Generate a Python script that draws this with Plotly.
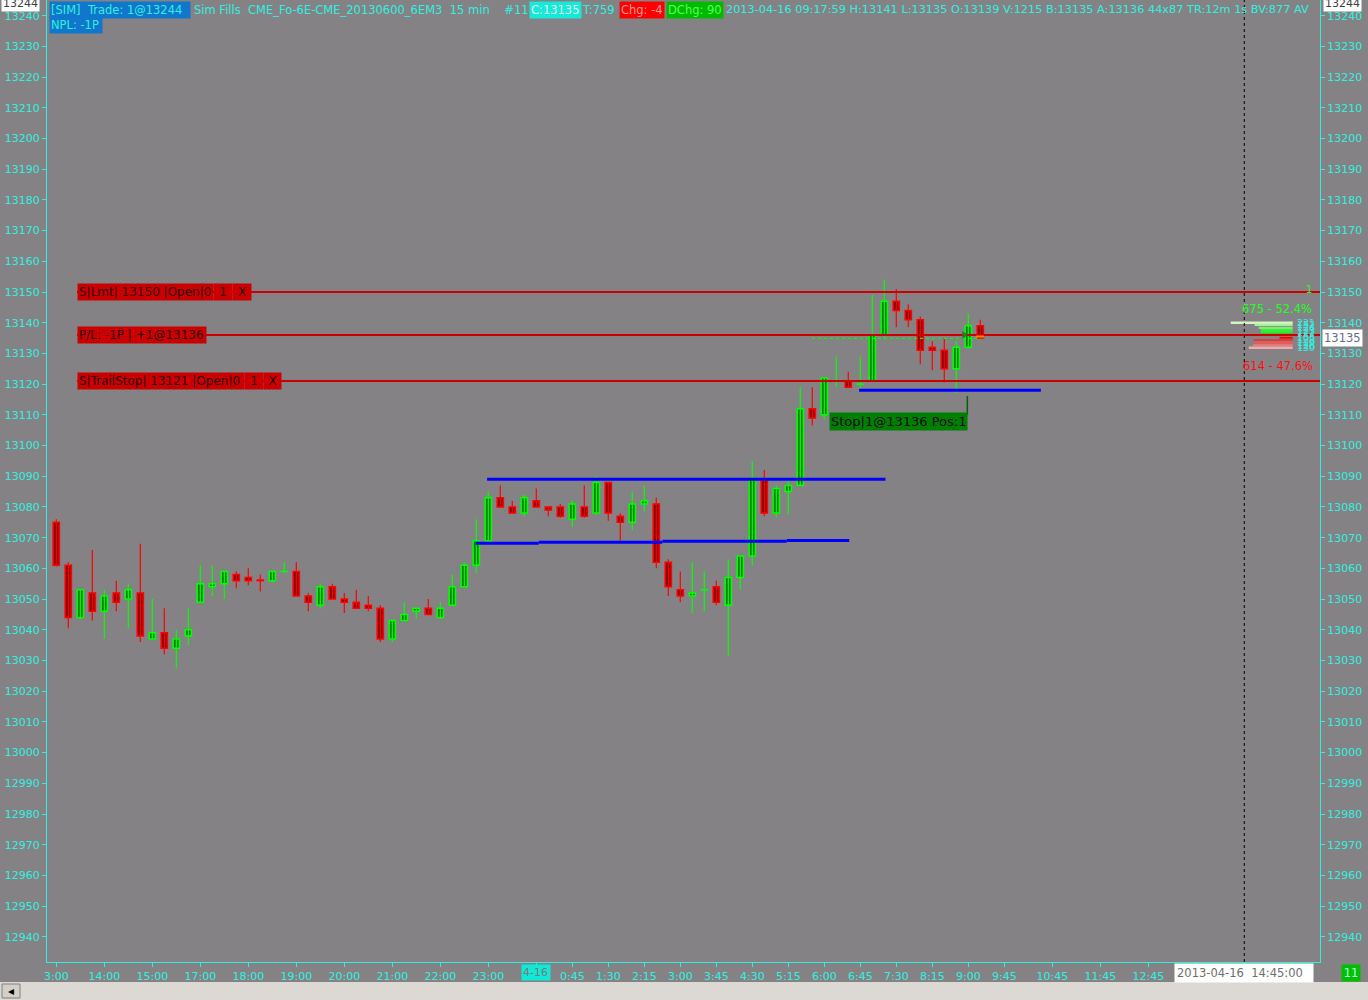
import plotly.graph_objects as go

# ---------------- data ----------------
opens = [13075, 13061, 13044, 13052, 13046, 13052, 13050, 13052, 13037, 13039,
         13034, 13038, 13049, 13054, 13055, 13058, 13057, 13056.2, 13056, 13059,
         13059, 13051, 13048, 13054, 13050, 13049, 13048, 13047, 13037, 13043,
         13046, 13047, 13044, 13048, 13054, 13061, 13069, 13083, 13080, 13078,
         13082, 13080, 13080, 13076, 13080, 13078, 13088, 13077, 13075, 13081,
         13081, 13062, 13053, 13051, 13053, 13054, 13048, 13057, 13064, 13089,
         13078, 13085, 13087, 13112, 13110, 13121, 13121, 13120, 13121, 13136,
         13147, 13144, 13141, 13132, 13131, 13125, 13132, 13139]
highs = [13076, 13062, 13053, 13066, 13053, 13056, 13055, 13068, 13050, 13047,
         13040, 13047, 13061, 13061, 13059, 13059, 13060, 13058, 13059, 13062,
         13062, 13052, 13055, 13055, 13052, 13053, 13051, 13048, 13043, 13049,
         13047, 13050, 13049, 13058, 13062, 13076, 13085, 13087, 13082, 13084,
         13086, 13080, 13081, 13082, 13087, 13090, 13088, 13078, 13085, 13087,
         13083, 13063, 13059, 13062, 13059, 13056, 13063, 13064, 13095, 13092,
         13087, 13089, 13119, 13119, 13122, 13129, 13124, 13129, 13149, 13154,
         13151, 13146, 13142, 13134, 13135, 13134, 13143, 13141]
lows = [13060.5, 13040.5, 13043.5, 13043, 13037, 13046, 13040.5, 13036, 13037, 13032,
        13027.5, 13035, 13049, 13051, 13050, 13053.5, 13054.5, 13052.5, 13055.5, 13058.5,
        13051, 13046, 13047, 13050, 13045.5, 13047, 13046, 13036, 13036, 13043,
        13043.5, 13045, 13043.5, 13048, 13054, 13058.5, 13069, 13080, 13078, 13077,
        13080, 13077, 13076.5, 13073.5, 13076.5, 13077.5, 13075.5, 13069, 13072.5, 13078.5,
        13060, 13051, 13049, 13045.5, 13046, 13048, 13031.5, 13053, 13061, 13077,
        13076.5, 13077.5, 13087, 13106.5, 13108.5, 13119, 13119, 13118.5, 13121, 13135,
        13138.5, 13138.5, 13126.5, 13124.5, 13120.5, 13117, 13131.5, 13135]
closes = [13061, 13044, 13053, 13046, 13051, 13049, 13053, 13038, 13039, 13034,
          13037, 13040, 13055, 13055, 13059, 13056, 13056, 13056, 13059, 13059,
          13051, 13049, 13054, 13050, 13049, 13047, 13047, 13037, 13043, 13045,
          13047, 13045, 13047, 13054, 13061, 13069, 13083, 13080, 13078, 13083,
          13080, 13079, 13077, 13081, 13077, 13088, 13078, 13075, 13081, 13082,
          13062, 13054, 13051, 13052, 13053, 13049, 13057, 13064, 13089, 13078,
          13086, 13087, 13112, 13109, 13122, 13121, 13119, 13120, 13136, 13147,
          13144, 13141, 13131, 13131, 13125, 13132, 13139, 13135]

tick_idx = [0, 4, 8, 12, 16, 20, 24, 28, 32, 36, 40, 43, 46, 49, 52, 55, 58, 61,
            64, 67, 70, 73, 76, 79, 83, 87, 91, 95, 99, 103]
tick_text = ["3:00", "14:00", "15:00", "17:00", "18:00", "19:00", "20:00", "21:00",
             "22:00", "23:00", "4-16", "0:45", "1:30", "2:15", "3:00", "3:45", "4:30",
             "5:15", "6:00", "6:45", "7:30", "8:15", "9:00", "9:45", "10:45", "11:45",
             "12:45", "", "", ""]
price_ticks = list(range(12940, 13241, 10))

order_prices = [13150, 13136, 13121]
order_boxes = [["S|Lmt| 13150 |Open|0", "1", "X"],
               ["P/L: -1P | +1@13136"],
               ["S|TrailStop| 13121 |Open|0", "1", "X"]]

blue_levels = [13089.0, 13118.0, 13068.2, 13068.5, 13068.8, 13069.1]
blue_start = [35.9, 66.9, 34.95, 40.2, 50.5, 60.87]
blue_end = [69.1, 82.05, 40.2, 50.5, 60.87, 66.08]

ask_levels = [13140.1, 13139.3, 13138.4, 13137.6, 13136.9]
ask_vols = [231, 142, 127, 119, 119]
ask_counts = ["231", "152", "124", "123", "121"]
bid_levels = [13135.1, 13134.4, 13133.5, 13132.7, 13131.9]
bid_vols = [49, 146, 138, 149, 164]
bid_counts = ["105", "128", "129", "126", "130"]

# ---------------- style ----------------
BG = "#858285"
CYAN = "#2ff0e0"
FONT = "DejaVu Sans"
W, H = 1368, 1000
L, R, T, B = 47, 48, 0, 38
PW, PH = W - L - R, H - T - B
X_RANGE = [-0.775, 105.31]
Y_RANGE = [12931.8, 13245.1]


def pxx(p):
    return (p - L) / PW


def pxy(p):
    return 1 - (p - T) / PH


fig = go.Figure()

# wicks
for up in (True, False):
    xs, ys = [], []
    for i, (o, h, l, c) in enumerate(zip(opens, highs, lows, closes)):
        if (c >= o) == up:
            xs += [i, i, None]
            ys += [l, h, None]
    fig.add_trace(go.Scatter(x=xs, y=ys, mode="lines",
                             line=dict(color="#00ff00" if up else "#ff0000", width=1.2),
                             hoverinfo="skip", showlegend=False))

# bodies
for up in (True, False):
    xs, base, hgt = [], [], []
    for i, (o, c) in enumerate(zip(opens, closes)):
        if (c >= o) == up:
            xs.append(i)
            base.append(min(o, c))
            hgt.append(max(abs(c - o), 0.02))
    fig.add_trace(go.Bar(x=xs, y=hgt, base=base, width=0.52,
                         marker=dict(color="#008000" if up else "#8b0000",
                                     line=dict(color="#00ff00" if up else "#ff0000", width=1.5)),
                         hoverinfo="skip", showlegend=False))

# blue lines
for lv, a, b in zip(blue_levels, blue_start, blue_end):
    fig.add_trace(go.Scatter(x=[a, b], y=[lv, lv], mode="lines",
                             line=dict(color="#0000ff", width=3),
                             hoverinfo="skip", showlegend=False))

# order lines
for p in order_prices:
    fig.add_trace(go.Scatter(x=[(77 - 56.3) / 12, X_RANGE[1]], y=[p, p], mode="lines",
                             line=dict(color="#cc0000", width=2),
                             hoverinfo="skip", showlegend=False))

# position line (green dotted) and markers
fig.add_trace(go.Scatter(x=[62.98, 77.0], y=[13134.9, 13134.9], mode="lines",
                         line=dict(color="#00ff00", width=1.3, dash="dot"),
                         hoverinfo="skip", showlegend=False))
fig.add_trace(go.Scatter(x=[76.65, 77.3], y=[13135.5, 13135.5], mode="lines",
                         line=dict(color="#ff8c00", width=2),
                         hoverinfo="skip", showlegend=False))
fig.add_trace(go.Scatter(x=[75.65], y=[13136], mode="markers",
                         marker=dict(symbol="triangle-right", size=7, color="#2a7a2a"),
                         hoverinfo="skip", showlegend=False))
fig.add_trace(go.Scatter(x=[75.92, 75.92], y=[13116.1, 13110.0], mode="lines",
                         line=dict(color="#006400", width=1.5),
                         hoverinfo="skip", showlegend=False))

# volume profile
ask_cols = ["#d4f4c4", "#a8f09c", "#7eec78", "#44e844", "#10ff10"]
bid_cols = ["#ff0000", "#f03434", "#f25656", "#f27a7a", "#f4aaaa"]
fig.add_trace(go.Bar(x=ask_vols, y=ask_levels, orientation="h", width=0.65,
                     marker=dict(color=ask_cols, line=dict(width=0)),
                     xaxis="x2", yaxis="y", hoverinfo="skip", showlegend=False))
fig.add_trace(go.Bar(x=bid_vols, y=bid_levels, orientation="h", width=0.65,
                     marker=dict(color=bid_cols, line=dict(width=0)),
                     xaxis="x2", yaxis="y", hoverinfo="skip", showlegend=False))

# invisible trace for right axis
fig.add_trace(go.Scatter(x=[0], y=[13000], yaxis="y2", mode="markers",
                         marker=dict(opacity=0), hoverinfo="skip", showlegend=False))

ann = []


def box(text, x, y, bg=None, fg=CYAN, size=11.5, xanchor="left", width=None,
        xref="paper", yref="paper", pad=1):
    d = dict(text=text, x=x, y=y, xref=xref, yref=yref, xanchor=xanchor,
             yanchor="middle", showarrow=False, borderpad=pad,
             font=dict(family=FONT, size=size, color=fg))
    if bg:
        d["bgcolor"] = bg
    if width:
        d["width"] = width
        d["align"] = "center" if len(text) < 3 else "left"
    ann.append(d)


# header
box("[SIM]\u00a0 Trade: 1@13244", pxx(49), pxy(10), bg="#1177cc", width=138)
box("NPL: -1P", pxx(49), pxy(25), bg="#1177cc", width=50)
box("Sim Fills\u00a0 CME_Fo-6E-CME_20130600_6EM3\u00a0 15 min\u00a0\u00a0\u00a0 #11",
    pxx(192), pxy(10))
box("C:13135", pxx(529), pxy(10), bg="#18e8d8", fg="#d8fff8")
box("T:759", pxx(580), pxy(10))
box("Chg: -4", pxx(619), pxy(10), bg="#ff0000", fg="#ff9a9a")
box("DChg: 90", pxx(666), pxy(10), bg="#00bb00", fg="#55ff55")
box("2013-04-16 09:17:59 H:13141 L:13135 O:13139 V:1215 B:13135 A:13136 44x87 TR:12m 1s BV:877 AV",
    pxx(724), pxy(10), size=11.3)

# top price boxes
box("13244", pxx(1), 13244, bg="#ffffff", fg="#404040", size=11, yref="y")
box("13244", pxx(1323), 13244, bg="#ffffff", fg="#404040", size=11, yref="y")
box("13135", pxx(1322), 13135, bg="#ffffff", fg="#6a6a88", size=11.5, yref="y")

# order labels
box_lefts = [[77, 213, 232], [77], [77, 244, 263]]
box_widths = [[133, 16, 16], [126], [164, 16, 15]]
for p, texts, lefts, widths in zip(order_prices, order_boxes, box_lefts, box_widths):
    for t, lx, wd in zip(texts, lefts, widths):
        box(t, pxx(lx), p, bg="#cc0000", fg="#2a0000", size=12, width=wd, yref="y")

# stop label
box("Stop|1@13136 Pos:1", pxx(829), 13107.7, bg="#008000", fg="#0a0a0a", size=13,
    yref="y", pad=1)

# profile texts
box("675 - 52.4%", pxx(1277), pxy(309), fg="#22ff22", size=11.5, xanchor="center")
box("614 - 47.6%", pxx(1278), pxy(366), fg="#ff1010", size=11.5, xanchor="center")
box("1", pxx(1309), pxy(289), fg="#22ff22", size=10, xanchor="center")
for lv, c in zip(ask_levels + bid_levels, ask_counts + bid_counts):
    box(c, pxx(1306), lv, fg=CYAN, size=9.5, xanchor="center", yref="y", pad=0)

# bottom boxes
box("2013-04-16\u00a0 14:45:00", 99, pxy(973), bg="#ffffff", fg="#6e6e6e", size=11.5,
    xanchor="center", xref="x", width=134, pad=2)
box("11", pxx(1350.5), pxy(973), bg="#00c000", fg="#b0fff0", size=11.5,
    xanchor="center", width=16)
box("4-16", tick_idx[tick_text.index("4-16")], pxy(973), bg="#10e8d8", fg="#7a7a7a",
    size=11, xanchor="center", xref="x", width=26)
box("\u25c2", pxx(11), pxy(991), fg="#000000", size=12, xanchor="center")

shown_text = ["" if t == "4-16" else t for t in tick_text]

shapes = [
    dict(type="line", xref="x", yref="paper", x0=99, x1=99, y0=0, y1=1,
         line=dict(color="#000000", width=1, dash="dot"), layer="above"),
    dict(type="rect", xref="paper", yref="paper", x0=pxx(0), x1=pxx(W),
         y0=pxy(1000), y1=pxy(982), fillcolor="#dcd9d4", line=dict(width=0)),
    dict(type="rect", xref="paper", yref="paper", x0=pxx(2), x1=pxx(20),
         y0=pxy(998), y1=pxy(984), fillcolor="#d4d0c8",
         line=dict(color="#808080", width=1)),
]

axis_common = dict(showgrid=False, zeroline=False, showline=True, linecolor=CYAN,
                   linewidth=1, ticks="outside", tickcolor=CYAN, ticklen=4,
                   tickfont=dict(family=FONT, size=11, color=CYAN))

fig.update_layout(
    width=W, height=H,
    margin=dict(l=L, r=R, t=T, b=B, pad=0),
    paper_bgcolor=BG, plot_bgcolor=BG,
    barmode="overlay", showlegend=False, hovermode=False,
    xaxis=dict(range=X_RANGE, tickmode="array", tickvals=tick_idx, ticktext=shown_text,
               **axis_common),
    xaxis2=dict(range=[4648, -102], overlaying="x", visible=False),
    yaxis=dict(range=Y_RANGE, tickmode="array", tickvals=price_ticks,
               ticktext=[str(v) for v in price_ticks], **axis_common),
    yaxis2=dict(range=Y_RANGE, overlaying="y", side="right", tickmode="array",
                tickvals=price_ticks, ticktext=[str(v) for v in price_ticks],
                **axis_common),
    annotations=ann, shapes=shapes,
)

fig.write_html("out.html", config={"displayModeBar": False},
               post_script="document.body.style.margin='0px';"
                           "document.body.style.overflow='hidden';")
